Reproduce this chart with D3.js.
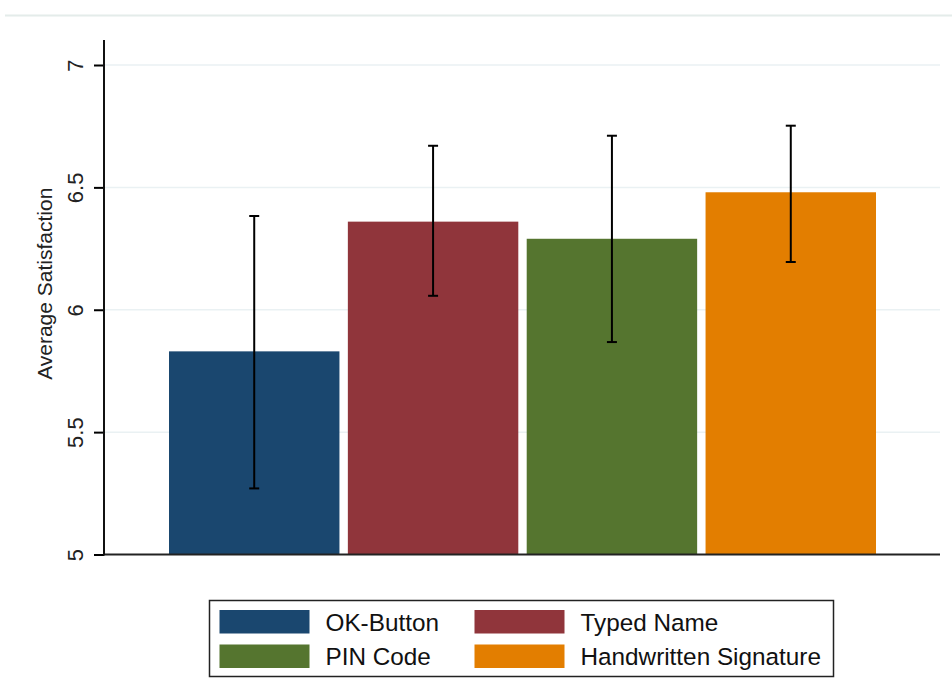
<!DOCTYPE html>
<html>
<head>
<meta charset="utf-8">
<script src="https://cdn.jsdelivr.net/npm/d3@7"></script>
<style>
  html, body { margin: 0; padding: 0; background: #fff; }
  svg { display: block; font-family: "Liberation Sans", Arial, sans-serif; }
</style>
</head>
<body>
<svg id="chart" width="952" height="700"></svg>
<script>
// Signature methods and their mean satisfaction with 95% confidence limits
const methods = ["OK-Button", "Typed Name", "PIN Code", "Handwritten Signature"];
const meanSatisfaction = [5.83, 6.36, 6.29, 6.48];
const ciLower = [5.27, 6.057, 5.868, 6.195];
const ciUpper = [6.383, 6.67, 6.711, 6.752];
const barColors = ["#1a476f", "#90353b", "#55752f", "#e37e00"];
const yTicks = [5, 5.5, 6, 6.5, 7];
const yTitle = "Average Satisfaction";

const rows = methods.map((m, i) => ({
  method: m, mean: meanSatisfaction[i], lo: ciLower[i], hi: ciUpper[i], color: barColors[i]
}));

const svg = d3.select("#chart");

const plot = { left: 104, right: 940, top: 40, bottom: 554.5 };

const y = d3.scaleLinear().domain([5, 7]).range([plot.bottom, 65]);
const x = d3.scaleBand().domain(methods).range([169, 876]).paddingInner(0.047).paddingOuter(0);

// faint rule across the top of the graph region
svg.append("line")
  .attr("x1", 5).attr("x2", 952).attr("y1", 15.5).attr("y2", 15.5)
  .attr("stroke", "#e4ecea").attr("stroke-width", 2);

// horizontal grid lines
svg.append("g")
  .selectAll("line")
  .data(yTicks.filter(t => t > 5))
  .join("line")
  .attr("x1", plot.left).attr("x2", plot.right)
  .attr("y1", d => y(d)).attr("y2", d => y(d))
  .attr("stroke", "#eaf1f3").attr("stroke-width", 1.5);

// bars
svg.append("g")
  .selectAll("rect")
  .data(rows)
  .join("rect")
  .attr("x", d => x(d.method))
  .attr("width", x.bandwidth())
  .attr("y", d => y(d.mean))
  .attr("height", d => y(5) - y(d.mean))
  .attr("fill", d => d.color);

// confidence interval whiskers
const capHalf = 5;
const eb = svg.append("g").attr("stroke", "#000").attr("stroke-width", 2);
eb.selectAll("line.v")
  .data(rows).join("line").attr("class", "v")
  .attr("x1", d => x(d.method) + x.bandwidth() / 2)
  .attr("x2", d => x(d.method) + x.bandwidth() / 2)
  .attr("y1", d => y(d.lo)).attr("y2", d => y(d.hi));
eb.selectAll("line.top")
  .data(rows).join("line").attr("class", "top")
  .attr("x1", d => x(d.method) + x.bandwidth() / 2 - capHalf)
  .attr("x2", d => x(d.method) + x.bandwidth() / 2 + capHalf)
  .attr("y1", d => y(d.hi)).attr("y2", d => y(d.hi));
eb.selectAll("line.bot")
  .data(rows).join("line").attr("class", "bot")
  .attr("x1", d => x(d.method) + x.bandwidth() / 2 - capHalf)
  .attr("x2", d => x(d.method) + x.bandwidth() / 2 + capHalf)
  .attr("y1", d => y(d.lo)).attr("y2", d => y(d.lo));

// baseline
svg.append("line")
  .attr("x1", plot.left).attr("x2", plot.right)
  .attr("y1", plot.bottom).attr("y2", plot.bottom)
  .attr("stroke", "#222").attr("stroke-width", 2);

// y axis
const yAxis = d3.axisLeft(y).tickValues(yTicks).tickSize(10).tickSizeOuter(0)
  .tickFormat(d3.format("~g"));
const gy = svg.append("g").attr("transform", `translate(${plot.left},0)`).call(yAxis);
gy.select(".domain").remove();
gy.selectAll(".tick line").attr("stroke", "#000").attr("stroke-width", 2);
gy.selectAll(".tick text")
  .attr("x", 0).attr("y", 0).attr("dy", 0)
  .attr("text-anchor", "middle")
  .attr("fill", "#222")
  .style("font-size", "22px")
  .attr("transform", "translate(-21,0) rotate(-90)");
svg.append("line")
  .attr("x1", plot.left).attr("x2", plot.left)
  .attr("y1", plot.top).attr("y2", plot.bottom + 1)
  .attr("stroke", "#111").attr("stroke-width", 2);

// y axis title
svg.append("text")
  .attr("transform", `translate(52,${(y(5) + y(7)) / 2 - 26}) rotate(-90)`)
  .attr("text-anchor", "middle")
  .attr("fill", "#222")
  .style("font-size", "21px")
  .text(yTitle);

// legend
const legend = svg.append("g");
legend.append("rect")
  .attr("x", 209.5).attr("y", 600.5).attr("width", 624).attr("height", 76)
  .attr("fill", "#fff").attr("stroke", "#222").attr("stroke-width", 1.5);
const legCols = [219.5, 474.5];
const legRows = [610, 644.5];
const items = legend.selectAll("g.item")
  .data(rows).join("g").attr("class", "item")
  .attr("transform", (d, i) => `translate(${legCols[i % 2]},${legRows[Math.floor(i / 2)]})`);
items.append("rect")
  .attr("width", 90).attr("height", 23.5)
  .attr("fill", d => d.color);
items.append("text")
  .attr("x", 106).attr("y", 20.5)
  .attr("fill", "#111")
  .style("font-size", "24.3px")
  .text(d => d.method);
</script>
</body>
</html>
